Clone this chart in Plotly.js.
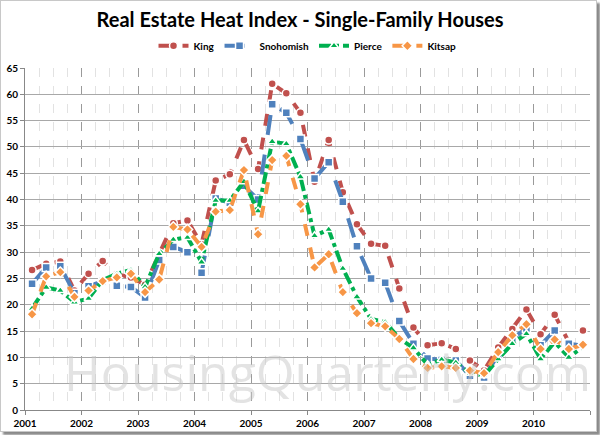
<!DOCTYPE html>
<html>
<head>
<meta charset="utf-8">
<script src="https://cdn.plot.ly/plotly-3.0.1.min.js"></script>
<style>
  html, body { margin: 0; padding: 0; background: #fff; }
  #wrap { position: relative; width: 600px; height: 435px; }
  #chart { width: 600px; height: 435px; }
  #frame { position: absolute; left: 0; top: 0; width: 595px; height: 430px;
           border: 1px solid #c8c8c8; box-shadow: 3px 3px 2px #8a8a8a; pointer-events: none; }
</style>
</head>
<body>
<div id="wrap"><div id="chart"></div><div id="frame"></div></div>
<script>
// Quarterly periods 2001 Q1 .. 2010 Q4
const years = [2001, 2002, 2003, 2004, 2005, 2006, 2007, 2008, 2009, 2010];
const quarters = [1, 2, 3, 4];

const king = [26.6, 27.8, 28.2, 22.7, 25.9, 28.3, 25.8, 25.2,
              23.8, 29.5, 35.5, 36.0, 31.5, 43.6, 44.8, 51.3,
              45.8, 62.0, 60.2, 56.5, 43.4, 51.3, 41.4, 35.3,
              31.6, 31.2, 23.1, 15.7, 12.3, 12.7, 11.6, 9.4,
              7.5, 11.9, 15.4, 19.1, 14.4, 18.1, 12.9, 15.1];
const snohomish = [24.0, 27.1, 27.3, 22.2, 23.5, 24.5, 23.6, 23.4,
                   21.4, 28.5, 31.0, 30.0, 26.1, 40.2, 39.4, 42.6,
                   40.0, 58.1, 56.5, 51.5, 44.0, 47.1, 39.6, 31.1,
                   25.0, 24.2, 16.9, 12.6, 9.8, 9.5, 9.4, 6.5,
                   6.2, 10.5, 13.6, 15.5, 12.3, 15.1, 12.6, 12.2];
const pierce = [19.3, 23.3, 22.7, 20.5, 21.2, 24.7, 25.9, 26.6,
                23.4, 29.7, 32.4, 32.8, 28.1, 39.8, 39.8, 43.4,
                37.8, 51.0, 50.6, 44.3, 33.1, 34.3, 26.9, 21.5,
                17.3, 16.7, 13.6, 11.8, 8.6, 9.6, 9.0, 7.0,
                6.5, 9.7, 12.6, 14.5, 9.7, 12.9, 10.0, 12.0];
const kitsap = [18.2, 25.4, 26.2, 21.5, 22.7, 24.5, 25.2, 25.9,
                22.4, 24.8, 34.8, 34.3, 31.0, 37.7, 38.0, 45.6,
                33.4, 47.5, 48.3, 39.1, 27.1, 29.6, 22.4, 18.4,
                16.5, 15.9, 13.5, 9.7, 8.0, 8.3, 8.0, 7.5,
                7.0, 11.0, 14.2, 16.3, 11.6, 13.4, 11.6, 12.4];

const seriesNames = ["King", "Snohomish", "Pierce", "Kitsap"];
const seriesValues = [king, snohomish, pierce, kitsap];
const tickYears = [2001, 2002, 2003, 2004, 2005, 2006, 2007, 2008, 2009, 2010, 2011];
const tickLabels = ["2001", "2002", "2003", "2004", "2005", "2006", "2007", "2008", "2009", "2010", ""];

// x position of each quarter: middle of the quarter on a year axis
const xq = [];
years.forEach(y => quarters.forEach(q => xq.push(y + (q - 0.5) / 4)));

const colors = ["#C0504D", "#4F81BD", "#00B050", "#F79646"];
const symbols = ["circle", "square", "triangle-up", "diamond"];
const dashes = ["dash", "longdash", "dashdot", "dash"];

const traces = seriesNames.map((n, i) => ({
  x: xq, y: seriesValues[i], name: n, type: "scatter", mode: "lines+markers",
  line: { color: colors[i], width: 4, dash: dashes[i] },
  marker: { symbol: symbols[i], size: 8, color: colors[i],
            line: { color: "#ffffff", width: 1.5 } }
}));

const font = "Lato, 'Open Sans', sans-serif";
const layout = {
  width: 600, height: 435,
  margin: { l: 25, r: 10, t: 68, b: 25 },
  paper_bgcolor: "rgba(0,0,0,0)", plot_bgcolor: "rgba(0,0,0,0)",
  font: { family: font, color: "#000" },
  title: { text: "Real Estate Heat Index - Single-Family Houses",
           font: { family: font, size: 20, weight: 700, color: "#000" },
           x: 0.5, xanchor: "center", y: 0.955, yanchor: "middle" },
  showlegend: true,
  legend: { orientation: "h", x: 0.5, xanchor: "center", y: 1.065, yanchor: "middle",
            font: { family: font, size: 10, weight: 700 }, itemwidth: 30, tracegroupgap: 0 },
  xaxis: {
    range: [2001, 2011], tickmode: "array", tickvals: tickYears, ticktext: tickLabels,
    showgrid: true, gridcolor: "#9a9a9a", griddash: "dash", gridwidth: 1,
    ticks: "outside", ticklen: 4, tickcolor: "#888",
    showline: true, linecolor: "#888", linewidth: 1, zeroline: false,
    tickfont: { family: font, size: 10, weight: 700 },
    minor: { tick0: 2001, dtick: 0.25, showgrid: true, gridcolor: "#e2e2e2", gridwidth: 1, ticks: "" }
  },
  yaxis: {
    range: [0, 65], dtick: 5, showgrid: true, gridcolor: "#a8a8a8", gridwidth: 1,
    ticks: "outside", ticklen: 4, tickcolor: "#888",
    showline: true, linecolor: "#888", linewidth: 1, zeroline: false,
    tickfont: { family: font, size: 10, weight: 700 }
  },
  annotations: [{
    text: "HousingQuarterly.com", xref: "paper", yref: "paper",
    x: 0.535, y: 0.11, xanchor: "center", yanchor: "middle", showarrow: false,
    font: { family: "'Open Sans', sans-serif", size: 50, color: "rgba(200,200,200,0.5)" }
  }]
};

Plotly.newPlot("chart", traces, layout, { displayModeBar: false, staticPlot: true });
</script>
</body>
</html>
